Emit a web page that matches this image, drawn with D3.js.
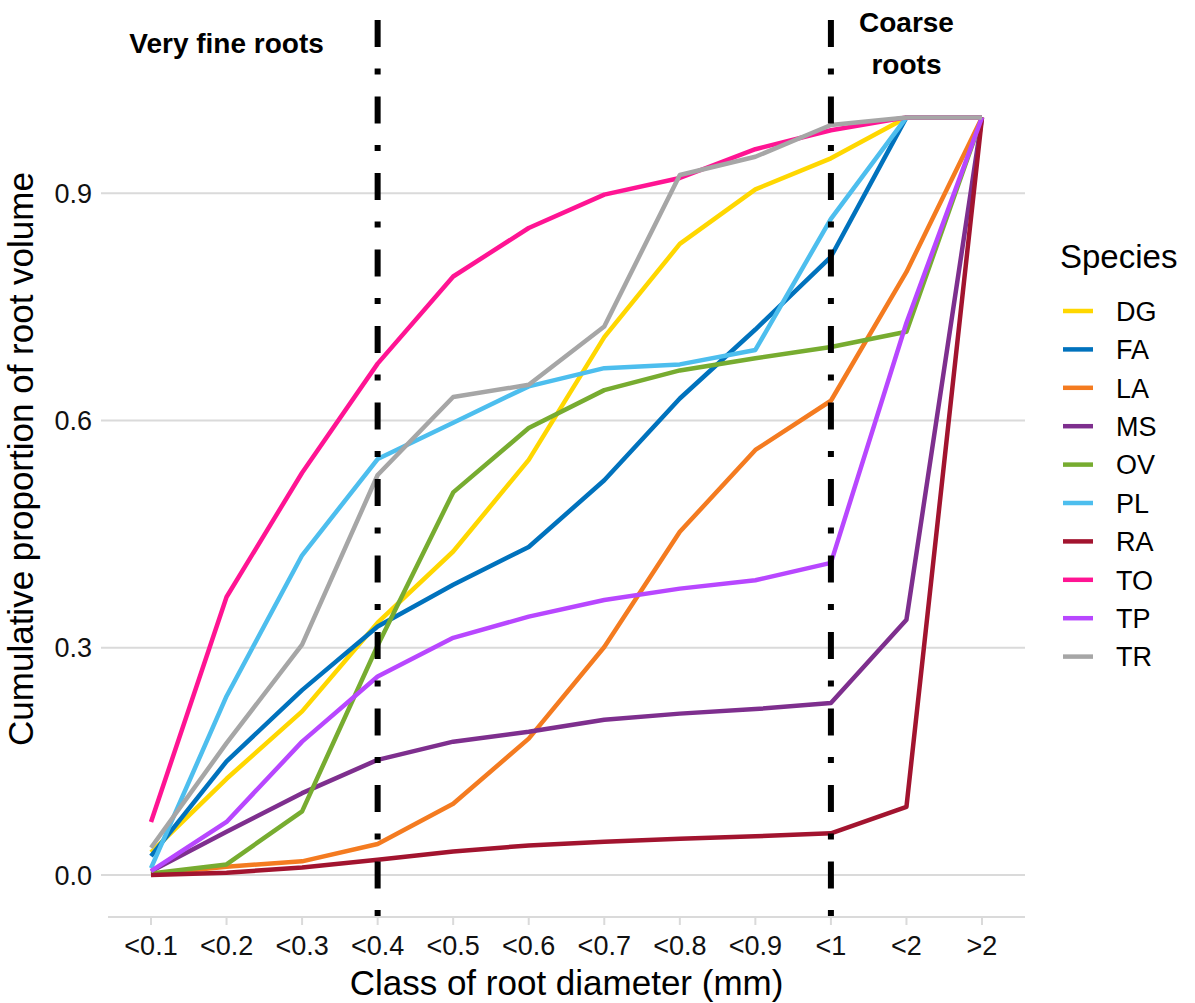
<!DOCTYPE html>
<html>
<head>
<meta charset="utf-8">
<script src="https://cdn.jsdelivr.net/npm/d3@7"></script>
<style>
  html, body { margin: 0; padding: 0; background: #fff; }
  svg { display: block; font-family: "Liberation Sans", Arial, sans-serif; }
</style>
</head>
<body>
<svg id="chart" width="1195" height="1003"></svg>
<script>
const categories = ["<0.1","<0.2","<0.3","<0.4","<0.5","<0.6","<0.7","<0.8","<0.9","<1","<2",">2"];
const species = ["DG","FA","LA","MS","OV","PL","RA","TO","TP","TR"];
const colors = ["#FFD700","#0072BD","#F47B20","#7E2F8E","#77AC30","#4DBEEE","#A2142F","#FF1493","#B847FF","#A6A6A6"];
const DG = [0.030,0.127,0.216,0.333,0.427,0.548,0.710,0.833,0.905,0.946,1,1];
const FA = [0.025,0.150,0.244,0.328,0.383,0.433,0.521,0.629,0.720,0.816,1,1];
const LA = [0.001,0.011,0.018,0.041,0.094,0.180,0.301,0.453,0.561,0.626,0.796,1];
const MS = [0.005,0.057,0.108,0.152,0.176,0.189,0.205,0.213,0.219,0.227,0.337,1];
const OV = [0.002,0.014,0.084,0.303,0.505,0.590,0.640,0.666,0.682,0.697,0.717,1];
const PL = [0.009,0.236,0.422,0.549,0.597,0.645,0.669,0.674,0.693,0.866,1,1];
const RA = [0.000,0.003,0.010,0.020,0.031,0.039,0.044,0.048,0.051,0.055,0.090,1];
const TO = [0.070,0.367,0.531,0.675,0.790,0.854,0.898,0.920,0.958,0.983,1,1];
const TP = [0.005,0.070,0.176,0.262,0.313,0.341,0.363,0.378,0.389,0.412,0.729,1];
const TR = [0.036,0.174,0.304,0.528,0.631,0.647,0.724,0.924,0.948,0.990,1,1];
const yTicks = [0, 0.3, 0.6, 0.9];
const dividers = ["<0.4","<1"];
const annotations = [
  {cat: "<0.2", lines: ["Very fine roots"]},
  {cat: "<2", lines: ["Coarse", "roots"]}
];
const seriesValues = [DG, FA, LA, MS, OV, PL, RA, TO, TP, TR];

const svg = d3.select("#chart");
const x = d3.scalePoint().domain(categories).range([151, 982]);
const y = d3.scaleLinear().domain([0, 1]).range([875, 117.4]);
const panel = {left: 108, right: 1025, top: 18, bottom: 917};
const grid = "#DADADA";

// grid lines (incl. short y ticks)
svg.append("g").selectAll("line").data(yTicks).join("line")
  .attr("x1", 101).attr("x2", panel.right)
  .attr("y1", d => y(d)).attr("y2", d => y(d))
  .attr("stroke", grid).attr("stroke-width", 2);

// y tick labels
svg.append("g").selectAll("text").data(yTicks).join("text")
  .attr("x", 92).attr("y", d => y(d)).attr("dy", "0.36em")
  .attr("text-anchor", "end").attr("font-size", 27).attr("fill", "#111")
  .text(d => d3.format(".1f")(d));

// x axis line
svg.append("line").attr("x1", panel.left).attr("x2", panel.right)
  .attr("y1", panel.bottom).attr("y2", panel.bottom)
  .attr("stroke", grid).attr("stroke-width", 2);
const xa = svg.append("g");
xa.selectAll("line").data(categories).join("line")
  .attr("x1", d => x(d)).attr("x2", d => x(d))
  .attr("y1", panel.bottom).attr("y2", panel.bottom + 8)
  .attr("stroke", grid).attr("stroke-width", 2);
xa.selectAll("text").data(categories).join("text")
  .attr("x", d => x(d)).attr("y", 955)
  .attr("text-anchor", "middle").attr("font-size", 27).attr("fill", "#111")
  .text(d => d);

// series lines
const line = d3.line().x((d, i) => x(categories[i])).y(d => y(d));
svg.append("g").selectAll("path").data(seriesValues).join("path")
  .attr("d", d => line(d))
  .attr("fill", "none")
  .attr("stroke", (d, i) => colors[i])
  .attr("stroke-width", 4.5)
  .attr("stroke-linejoin", "round")
  .attr("stroke-linecap", "butt");

// dividers
svg.append("g").selectAll("line").data(dividers).join("line")
  .attr("x1", d => x(d)).attr("x2", d => x(d))
  .attr("y1", 916).attr("y2", panel.top)
  .attr("stroke", "#000").attr("stroke-width", 6)
  .attr("stroke-dasharray", "6,21.5,27,22");

// annotations
annotations.forEach(a => {
  const n = a.lines.length;
  const t = svg.append("text")
    .attr("x", x(a.cat)).attr("y", 53)
    .attr("text-anchor", "middle").attr("font-size", 28)
    .attr("font-weight", "bold").attr("fill", "#000");
  a.lines.forEach((l, i) => {
    t.append("tspan").attr("x", x(a.cat))
      .attr("y", 53 + (i - (n - 1) / 2) * 42)
      .text(l);
  });
});

// axis titles
svg.append("text").attr("x", (panel.left + panel.right) / 2).attr("y", 995)
  .attr("text-anchor", "middle").attr("font-size", 35).attr("fill", "#000")
  .text("Class of root diameter (mm)");
svg.append("text")
  .attr("transform", "translate(33,459) rotate(-90)")
  .attr("text-anchor", "middle").attr("font-size", 35).attr("fill", "#000")
  .text("Cumulative proportion of root volume");

// legend
const lg = svg.append("g");
lg.append("text").attr("x", 1060).attr("y", 268)
  .attr("font-size", 33).attr("fill", "#000").text("Species");
const items = lg.selectAll("g.item").data(species).join("g")
  .attr("transform", (d, i) => `translate(0,${311 + i * 38.4})`);
items.append("line").attr("x1", 1063).attr("x2", 1093)
  .attr("y1", 0).attr("y2", 0)
  .attr("stroke", (d, i) => colors[i]).attr("stroke-width", 4.5);
items.append("text").attr("x", 1116).attr("y", 0).attr("dy", "0.36em")
  .attr("font-size", 27).attr("fill", "#000").text(d => d);
</script>
</body>
</html>
